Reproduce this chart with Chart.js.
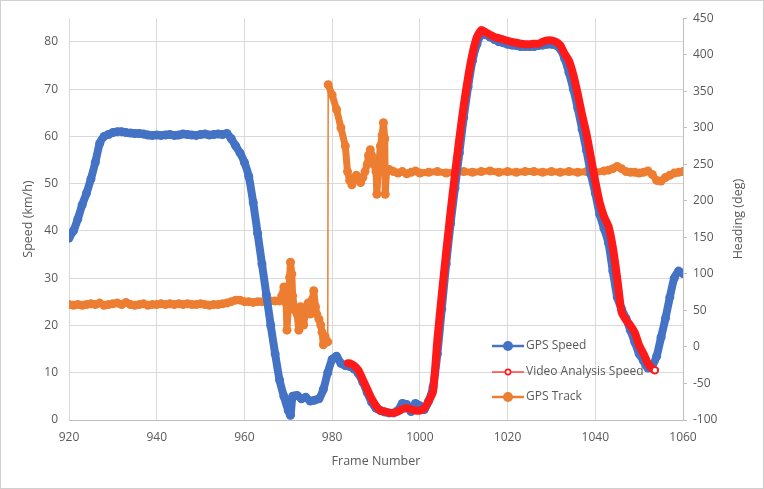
<!DOCTYPE html>
<html>
<head>
<meta charset="utf-8">
<script src="https://cdn.jsdelivr.net/npm/chart.js@4.4.1/dist/chart.umd.min.js"></script>
<style>
  html, body { margin: 0; padding: 0; background: #fff; }
  #wrap { width: 764px; height: 489px; }
</style>
</head>
<body>
<div id="wrap"><canvas id="chart" width="764" height="489"></canvas></div>
<script>
  // frame numbers and GPS speed (km/h)
  const gpsFrames = [
    920, 921, 922, 923, 924, 925, 926, 927, 928, 929,
    930, 931, 932, 933, 934, 935, 936, 937, 938, 939,
    940, 941, 942, 943, 944, 945, 946, 947, 948, 949,
    950, 951, 952, 953, 954, 955, 956, 957, 958, 959,
    960, 961, 962, 963, 964, 965, 966, 967, 968, 969,
    970, 970.5, 971, 972, 973, 974, 975, 976, 977, 978, 979,
    980, 981, 982, 983, 984, 985, 986, 987, 988, 989,
    990, 991, 992, 993, 994, 995, 996, 997, 998, 999,
    1000, 1001, 1002, 1003, 1004, 1005, 1006, 1007, 1008, 1009,
    1010, 1011, 1012, 1013, 1014, 1015, 1016, 1017, 1018, 1019,
    1020, 1021, 1022, 1023, 1024, 1025, 1026, 1027, 1028, 1029,
    1030, 1031, 1032, 1033, 1034, 1035, 1036, 1037, 1038, 1039,
    1040, 1041, 1042, 1043, 1044, 1045, 1046, 1047, 1048, 1049,
    1050, 1051, 1052, 1053, 1054, 1055, 1056, 1057, 1058, 1059, 1060
  ];
  const gpsSpeed = [
    38.5, 40, 42.5, 45.5, 48, 51, 54.5, 58.5, 60, 60.4,
    60.8, 61, 61, 60.8, 60.7, 60.6, 60.6, 60.5, 60.3, 60.2,
    60.3, 60.2, 60.3, 60.4, 60.2, 60.3, 60.5, 60.4, 60.3, 60.2,
    60.4, 60.5, 60.3, 60.4, 60.5, 60.4, 60.6, 59.5, 58, 56.5,
    54.5, 51.5, 46, 39.5, 33, 26.5, 20, 14, 8.5, 5,
    2, 1, 5, 5.2, 4.5, 4.8, 4, 4.2, 4.5, 6.5, 10,
    12.8, 13.5, 12, 11.5, 11.3, 10.8, 9.8, 8, 5.8, 3.8,
    2.5, 2, 1.7, 1.5, 1.5, 2, 3.5, 3.3, 1.8, 3.5,
    3, 2.2, 4, 7, 14, 23.5, 33, 41.5, 49, 56.5,
    64, 70.5, 76, 79.5, 81.5, 81.5, 81, 80.5, 80, 79.8,
    79.5, 79.3, 79.2, 79, 79, 79, 79, 79.2, 79.3, 79.5,
    79.5, 79.3, 78.5, 76.5, 73.5, 70, 66, 61.5, 57, 52,
    48, 43.5, 40.5, 37.5, 31.5, 26, 23.5, 21.5, 19, 16.5,
    14, 12.5, 11, 11.5, 13.5, 17.5, 21.5, 26, 30, 31.5, 31
  ];

  // video analysis speed (km/h)
  const videoFrames = [
    983.6, 984, 985, 986, 987, 988, 989, 990, 991, 992, 993, 994, 995, 996, 997, 998, 999,
    1000, 1001, 1002, 1003, 1004, 1005, 1006, 1007, 1008, 1009,
    1010, 1011, 1012, 1013, 1014, 1015, 1016, 1017, 1018, 1019,
    1020, 1021, 1022, 1023, 1024, 1025, 1026, 1027, 1028, 1029,
    1030, 1031, 1032, 1033, 1034, 1035, 1036, 1037, 1038, 1039,
    1040, 1041, 1042, 1043, 1044, 1045, 1046, 1047, 1048, 1049,
    1050, 1051, 1052, 1053, 1053.6
  ];
  const videoSpeed = [
    12, 12, 11.5, 10.5, 8.5, 6.5, 4.5, 3, 2, 1.8, 1.5, 1.5, 1.8, 2.3, 2.5, 2.3, 2,
    2, 2.5, 4, 6, 17, 26.5, 35.5, 44, 52, 59.5,
    66.5, 72.5, 77.5, 81, 82.5, 82, 81.5, 81, 80.8, 80.5,
    80.2, 80, 79.8, 79.6, 79.5, 79.5, 79.6, 79.6, 80, 80.3,
    80.3, 80, 79.3, 77.5, 76, 73, 69, 64.5, 60.5, 55.5,
    50.5, 46, 43, 41, 36.5, 30, 22.8, 21.2, 20, 18.5,
    15.8, 14, 12, 10.8, 10.5
  ];

  // GPS track heading (deg)
  const trackFrames = [
    920, 921, 922, 923, 924, 925, 926, 927, 928, 929,
    930, 931, 932, 933, 934, 935, 936, 937, 938, 939,
    940, 941, 942, 943, 944, 945, 946, 947, 948, 949,
    950, 951, 952, 953, 954, 955, 956, 957, 958, 959,
    960, 961, 962, 963, 964, 965, 966, 967, 968,
    968.5, 969, 969.5, 969.7, 970, 970.3, 970.5, 970.8, 971, 971.5,
    972, 972.4, 972.8, 973.2, 973.5, 974, 974.5, 975, 975.5, 975.8,
    976.2, 976.5, 977, 977.4, 977.7, 978, 978.4, 978.8, 979, 979.1,
    980, 981, 982, 983, 983.5, 984, 984.5, 985, 985.5, 986,
    986.5, 987, 987.5, 988, 988.3, 988.7, 989, 989.5, 990, 990.2,
    990.5, 991, 991.4, 991.7, 992, 992.1, 992.4, 993, 994, 995,
    996, 997, 998, 999, 1000, 1002, 1004, 1006, 1008, 1010,
    1012, 1014, 1016, 1018, 1020, 1022, 1024, 1026, 1028, 1030,
    1032, 1034, 1036, 1038, 1040, 1042, 1043, 1044, 1045, 1046,
    1047, 1048, 1049, 1050, 1051, 1052, 1053, 1054, 1055, 1056,
    1057, 1058, 1059, 1060
  ];
  const trackHeading = [
    58, 57, 58, 57, 58, 59, 58, 60, 57, 58,
    59, 60, 58, 61, 58, 57, 58, 59, 57, 58,
    58, 59, 58, 59, 58, 59, 58, 59, 58, 58,
    59, 58, 57, 58, 58, 59, 60, 62, 64, 64,
    62, 62, 61, 62, 62, 63, 63, 63, 63,
    70, 82, 60, 23, 55, 95, 116, 100, 70, 50,
    45, 23, 55, 40, 30, 50, 60, 45, 65, 77,
    55, 45, 38, 30, 20, 3, 14, 7, 7, 359,
    345, 325, 300, 275, 240, 228, 222, 228, 235, 230,
    225, 232, 240, 250, 262, 270, 262, 250, 240, 209,
    240, 275, 290, 307, 285, 209, 240, 243, 240, 238,
    240, 237, 239, 241, 238, 239, 240, 238, 239, 240,
    239, 240, 241, 239, 240, 239, 240, 240, 239, 240,
    239, 240, 239, 240, 239, 241, 242, 244, 247, 244,
    240, 239, 239, 238, 239, 241, 236, 228, 227, 232,
    235, 238, 239, 240
  ];

  const seriesNames = ["GPS Speed", "Video Analysis Speed", "GPS Track"];
  const BLUE = "#4472c4";
  const RED = "#ff1a1a";
  const ORANGE = "#ed7d31";
  const TEXT = "#595959";
  const FONT = "'Open Sans', 'Liberation Sans', sans-serif";

  function toPoints(xs, ys) {
    return xs.map((x, i) => ({ x: x, y: ys[i] }));
  }

  // white background + outer frame
  const framePlugin = {
    id: "frame",
    beforeDraw(chart) {
      const c = chart.ctx;
      c.save();
      c.fillStyle = "#fff";
      c.fillRect(0, 0, chart.width, chart.height);
      c.restore();
    },
    afterDraw(chart) {
      const c = chart.ctx;
      const area = chart.chartArea;
      c.save();
      c.strokeStyle = "#d0d0d0";
      c.lineWidth = 1;
      c.strokeRect(0.5, 0.5, chart.width - 1, chart.height - 1);
      // right axis title, reads bottom to top like the left one
      c.translate(chart.width - 26, (area.top + area.bottom) / 2);
      c.rotate(-Math.PI / 2);
      c.fillStyle = TEXT;
      c.font = "12.5px " + FONT;
      c.textAlign = "center";
      c.textBaseline = "middle";
      c.fillText("Heading (deg)", 0, 0);
      c.restore();
    }
  };

  // legend inside the plot, lower right (drawn under the data lines)
  const legendPlugin = {
    id: "innerLegend",
    beforeDatasetsDraw(chart) {
      const c = chart.ctx;
      const area = chart.chartArea;
      const x0 = area.right - 191;
      const rows = [area.bottom - 74, area.bottom - 48, area.bottom - 23];
      const colors = [BLUE, RED, ORANGE];
      c.save();
      c.font = "12px " + FONT;
      c.textBaseline = "middle";
      rows.forEach((y, i) => {
        c.strokeStyle = colors[i];
        c.lineWidth = i === 1 ? 1.2 : 2.5;
        c.beginPath();
        c.moveTo(x0, y);
        c.lineTo(x0 + 32, y);
        c.stroke();
        c.beginPath();
        if (i === 1) {
          c.arc(x0 + 16, y, 2.6, 0, Math.PI * 2);
          c.fillStyle = "#fff";
          c.fill();
          c.lineWidth = 1.6;
          c.stroke();
        } else {
          c.arc(x0 + 16, y, 5, 0, Math.PI * 2);
          c.fillStyle = colors[i];
          c.fill();
        }
        c.fillStyle = TEXT;
        c.fillText(seriesNames[i], x0 + 34, y);
      });
      c.restore();
    }
  };

  const lastVideo = videoFrames.length - 1;
  const tickFont = { family: FONT, size: 12 };

  new Chart(document.getElementById("chart"), {
    type: "line",
    data: {
      datasets: [
        {
          label: seriesNames[1],
          data: toPoints(videoFrames, videoSpeed),
          yAxisID: "y",
          borderColor: RED,
          backgroundColor: "#fff",
          borderWidth: 8,
          tension: 0.2,
          borderCapStyle: "round",
          borderJoinStyle: "round",
          pointRadius: (ctx) => (ctx.dataIndex === lastVideo ? 3 : 0),
          pointBorderColor: RED,
          pointBorderWidth: 1.5,
          pointBackgroundColor: "#fff",
          order: 0
        },
        {
          label: seriesNames[0],
          data: toPoints(gpsFrames, gpsSpeed),
          yAxisID: "y",
          borderColor: BLUE,
          backgroundColor: BLUE,
          borderWidth: 8,
          tension: 0.2,
          borderCapStyle: "round",
          borderJoinStyle: "round",
          pointRadius: 4.5,
          pointBorderWidth: 0,
          pointBackgroundColor: BLUE,
          order: 1
        },
        {
          label: seriesNames[2],
          data: toPoints(trackFrames, trackHeading),
          yAxisID: "y1",
          borderColor: ORANGE,
          backgroundColor: ORANGE,
          borderWidth: 7,
          tension: 0,
          borderCapStyle: "round",
          borderJoinStyle: "round",
          pointRadius: 4.5,
          pointBorderWidth: 0,
          pointBackgroundColor: ORANGE,
          segment: {
            // the wrap-around jump is only a thin connector
            borderWidth: (ctx) => (Math.abs(ctx.p1.parsed.y - ctx.p0.parsed.y) > 200 ? 1.5 : 7)
          },
          order: 2
        }
      ]
    },
    options: {
      responsive: false,
      animation: false,
      events: [],
      layout: { padding: { left: 17, right: 13, top: 17, bottom: 16 } },
      plugins: {
        legend: { display: false },
        tooltip: { enabled: false }
      },
      scales: {
        x: {
          type: "linear",
          min: 920,
          max: 1060,
          ticks: { stepSize: 20, padding: 10, color: TEXT, font: tickFont, callback: (v) => String(v) },
          grid: { color: "#d9d9d9", drawTicks: false },
          border: { color: "#bfbfbf" },
          title: { display: true, text: "Frame Number", color: TEXT, font: { family: FONT, size: 12.5 } },
          afterFit: (s) => { s.height = 53; }
        },
        y: {
          position: "left",
          min: 0,
          max: 85,
          ticks: { stepSize: 10, includeBounds: false, padding: 11, color: TEXT, font: tickFont },
          grid: { color: "#d9d9d9", drawTicks: false },
          border: { display: false },
          title: { display: true, text: "Speed (km/h)", color: TEXT, font: { family: FONT, size: 12.5 } },
          afterFit: (s) => { s.width = 52; }
        },
        y1: {
          position: "right",
          min: -100,
          max: 450,
          ticks: { stepSize: 50, padding: 6, color: TEXT, font: tickFont, callback: (v) => String(v) },
          grid: { drawOnChartArea: false, drawTicks: true, tickLength: 4, color: "#bfbfbf" },
          border: { color: "#bfbfbf" },
          afterFit: (s) => { s.width = 68; }
        }
      }
    },
    plugins: [framePlugin, legendPlugin]
  });
</script>
</body>
</html>
